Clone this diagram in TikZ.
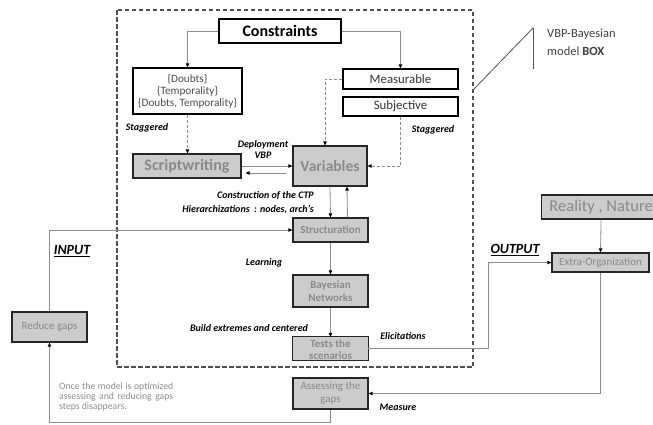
\documentclass[tikz,border=0pt]{standalone}
\usepackage{fontspec}
\setmainfont{Carlito}
\usetikzlibrary{arrows.meta,calc}
\definecolor{boxgrey}{HTML}{CCCCCC}
\definecolor{txtgrey}{HTML}{8A8A8A}
\definecolor{linegrey}{HTML}{8C8C8C}
\definecolor{framegrey}{HTML}{505050}
\newcommand{\fsz}[2]{\fontsize{#1}{#2}\selectfont}
\begin{document}
\begin{tikzpicture}[x=1pt,y=-1pt,
  whitebox/.style={draw=black, line width=1.2pt, fill=white, inner sep=0pt, align=center},
  greybox/.style={draw=black!85, line width=1.2pt, fill=boxgrey, inner sep=0pt, align=center, text=txtgrey},
  arrowtip/.style={-{Triangle[length=4pt,width=3.5pt,color=black]}},
  conn/.style={draw=linegrey, line width=0.8pt, arrowtip},
  dconn/.style={conn, dash pattern=on 3pt off 2pt},
  lbl/.style={font=\fsz{10}{11}\bfseries\itshape, inner sep=0pt, align=center},
  io/.style={font=\fsz{14}{16}\bfseries\itshape, inner sep=0pt},
]
\useasboundingbox (0,0) rectangle (653,424);

% model box frame
\draw[framegrey, line width=1.3pt, dash pattern=on 4.5pt off 2.5pt] (117,10) rectangle (473,367);

% nodes
\node[whitebox, minimum width=122, minimum height=24, font=\fsz{16}{19}\bfseries] (constraints) at (280,31) {Constraints};
\node[whitebox, minimum width=109, minimum height=46, font=\fsz{11.2}{12}, text=black!70] (doubts) at (187.5,91) {\{Doubts\}\\\{Temporality\}\\\{Doubts, Temporality\}};
\node[whitebox, minimum width=115, minimum height=20, font=\fsz{12.8}{14}, text=black!80] (measurable) at (400.5,79) {Measurable};
\node[whitebox, minimum width=115, minimum height=19, font=\fsz{12.8}{14}, text=black!80] (subjective) at (400.5,106.5) {Subjective};
\node[greybox, minimum width=108, minimum height=24, font=\fsz{16}{19}\bfseries] (script) at (187,166) {Scriptwriting};
\node[greybox, minimum width=74, minimum height=40, font=\fsz{15.5}{18}\bfseries] (variables) at (330,166) {Variables};
\node[greybox, minimum width=75, minimum height=24, font=\fsz{11}{13}\bfseries] (struct) at (330.5,230) {Structuration};
\node[greybox, minimum width=75, minimum height=32, font=\fsz{11}{13}\bfseries] (bayes) at (330.5,291) {Bayesian\\Networks};
\node[fill=boxgrey, inner sep=0pt, minimum width=75, minimum height=23] (tests) at (330.5,348.5) {};
\node[text=txtgrey, font=\fsz{11}{12}\bfseries, align=center, inner sep=0pt] (teststext) at ($(tests.center)+(0,1.5)$) {Tests the\\scenarios};
\draw[black!85, line width=1.2pt] (tests.north west) rectangle (tests.south east);
\node[greybox, minimum width=75, minimum height=31, font=\fsz{11}{13}] (assess) at (330.5,393.5) {Assessing the\\gaps};
\node[greybox, minimum width=75, minimum height=30, font=\fsz{11}{13}] (reduce) at (49.5,327) {Reduce gaps};
\node[greybox, minimum width=119, minimum height=24, font=\fsz{16.5}{19}, anchor=west] (reality) at (541,207) {Reality , Nature};
\node[greybox, minimum width=97, minimum height=19, font=\fsz{11}{13}] (extra) at (600.5,262.5) {Extra-Organization};

% connectors
\draw[conn] (constraints.west) -| (doubts.north);
\draw[conn] (constraints.east) -| (measurable.north);
\draw[dconn] (doubts.south) -- (doubts.south |- script.north);
\draw[dconn] (measurable.west) -| ($(variables.north)+(-5,0)$);
\draw[dconn] (subjective.south) |- (variables.east);
\draw[conn] (script.east) -- (variables.west);
\draw[conn] ($(variables.west)+(-6,7)$) -- ($(script.east)+(4,7)$);
\draw[conn] (variables.south) -- (struct.north);
\draw[conn] ($(struct.north)+(17,0)$) -- ($(variables.south)+(17,0)$);
\draw[conn] (struct.south) -- (bayes.north);
\draw[conn] (bayes.south) -- (tests.north);
\draw[conn] (tests.east) -- ($(tests.east)+(120,0)$) |- (extra.west);
\draw[conn] (reality.south) -- (extra.north);
\draw[conn] (extra.south) |- (assess.east);
\draw[conn] (assess.south) -- ($(assess.south)+(0,13)$) -| (reduce.south);
\draw[conn] (reduce.north) |- (struct.west);

% callout for the model box
\coordinate (vtop) at (533,28);
\coordinate (vbot) at (533,69);
\coordinate (vfoot) at (473,90);
\draw[framegrey, line width=0.8pt] (vtop) -- (vbot);
\draw[framegrey, line width=0.8pt] (vtop) -- (vfoot);
\node[font=\fsz{12.5}{18}, text=black!75, align=left, anchor=west, inner sep=0pt] (boxname) at (547,42) {VBP-Bayesian\\model \textbf{BOX}};

% labels
\node[lbl] (dep) at (263,149.5) {Deployment\\VBP};
\node[lbl] (stagl) at (147,128) {Staggered};
\node[lbl] (stagr) at (433,130) {Staggered};
\node[lbl, font=\fsz{10}{14}\bfseries\itshape, align=right, anchor=east] (ctp) at (314,203) {Construction of the CTP\\Hierarchizations~~: nodes, arch’s};
\node[lbl] (learn) at (264,263) {Learning};
\node[lbl] (build) at (249,328) {Build extremes and centered};
\node[lbl] (elic) at (403,336) {Elicitations};
\node[lbl] (meas) at (398,407) {Measure};
\node[io] (input) at (72,251) {\underline{INPUT}};
\node[io] (output) at (515,250) {\underline{OUTPUT}};

% note
\node[font=\fsz{9.7}{9.7}, text=black!45, text width=114pt, align=justify, anchor=north west, inner sep=0pt] (note) at (59,383) {Once the model is optimized assessing and reducing gaps steps disappears.};
\end{tikzpicture}
\end{document}
